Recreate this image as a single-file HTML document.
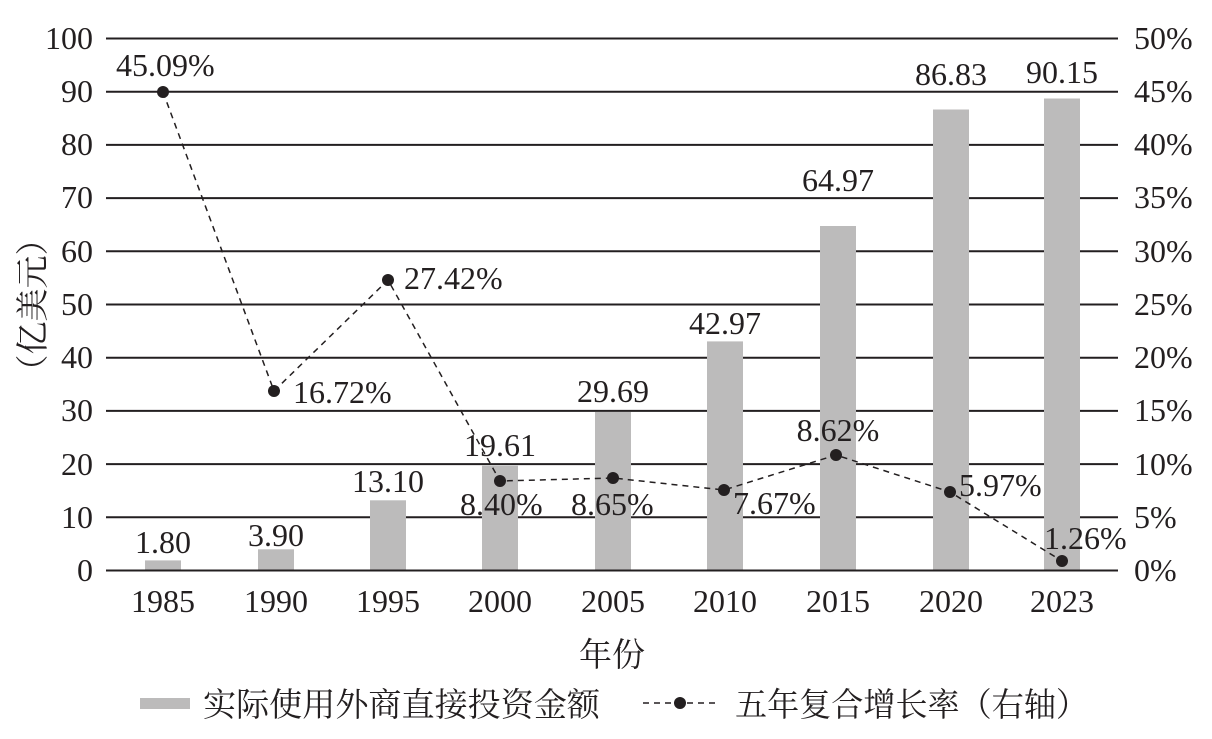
<!DOCTYPE html>
<html><head><meta charset="utf-8"><style>
html,body{margin:0;padding:0;background:#fff}
svg text{font-family:"Liberation Serif","Noto Serif CJK SC",serif;fill:#231f20}
</style></head><body>
<svg width="1212" height="734" viewBox="0 0 1212 734" xmlns="http://www.w3.org/2000/svg">
<g stroke="#231f20" stroke-width="2">
<line x1="106" y1="38.5" x2="1118" y2="38.5"/>
<line x1="106" y1="91.7" x2="1118" y2="91.7"/>
<line x1="106" y1="144.9" x2="1118" y2="144.9"/>
<line x1="106" y1="198.1" x2="1118" y2="198.1"/>
<line x1="106" y1="251.3" x2="1118" y2="251.3"/>
<line x1="106" y1="304.5" x2="1118" y2="304.5"/>
<line x1="106" y1="357.7" x2="1118" y2="357.7"/>
<line x1="106" y1="410.9" x2="1118" y2="410.9"/>
<line x1="106" y1="464.1" x2="1118" y2="464.1"/>
<line x1="106" y1="517.3" x2="1118" y2="517.3"/>
</g>
<g fill="#bcbbbb">
<rect x="145" y="560.4" width="36" height="9.6"/>
<rect x="258" y="549.3" width="36" height="20.7"/>
<rect x="370" y="500.3" width="36" height="69.7"/>
<rect x="482" y="465.7" width="36" height="104.3"/>
<rect x="595" y="412" width="36" height="158"/>
<rect x="707" y="341.4" width="36" height="228.6"/>
<rect x="820" y="226" width="36" height="344"/>
<rect x="933" y="109.5" width="36" height="460.5"/>
<rect x="1044" y="98.5" width="36" height="471.5"/>
</g>
<line x1="106" y1="570.5" x2="1118" y2="570.5" stroke="#231f20" stroke-width="2"/>
<polyline points="163,92 274,391 388,280 500,481 613,478 724,490 836,455 950,492 1062,561" fill="none" stroke="#231f20" stroke-width="1.5" stroke-dasharray="6,5"/>
<g fill="#231f20">
<circle cx="163" cy="92" r="6"/><circle cx="274" cy="391" r="6"/><circle cx="388" cy="280" r="6"/>
<circle cx="500" cy="481" r="6"/><circle cx="613" cy="478" r="6"/><circle cx="724" cy="490" r="6"/>
<circle cx="836" cy="455" r="6"/><circle cx="950" cy="492" r="6"/><circle cx="1062" cy="561" r="6"/>
</g>
<g font-size="32" text-anchor="end">
<text x="93" y="49">100</text><text x="93" y="102">90</text><text x="93" y="155">80</text>
<text x="93" y="208">70</text><text x="93" y="262">60</text><text x="93" y="315">50</text>
<text x="93" y="368">40</text><text x="93" y="421">30</text><text x="93" y="475">20</text>
<text x="93" y="528">10</text><text x="93" y="581">0</text>
</g>
<g font-size="32" text-anchor="start">
<text x="1134" y="49">50%</text><text x="1134" y="102">45%</text><text x="1134" y="155">40%</text>
<text x="1134" y="208">35%</text><text x="1134" y="262">30%</text><text x="1134" y="315">25%</text>
<text x="1134" y="368">20%</text><text x="1134" y="421">15%</text><text x="1134" y="475">10%</text>
<text x="1134" y="528">5%</text><text x="1134" y="581">0%</text>
</g>
<g font-size="32" text-anchor="middle">
<text x="163" y="612">1985</text><text x="276" y="612">1990</text><text x="388" y="612">1995</text>
<text x="500" y="612">2000</text><text x="613" y="612">2005</text><text x="725" y="612">2010</text>
<text x="838" y="612">2015</text><text x="951" y="612">2020</text><text x="1062" y="612">2023</text>
<text x="163" y="553">1.80</text><text x="276" y="546">3.90</text><text x="388" y="492">13.10</text>
<text x="500" y="456">19.61</text><text x="613" y="402">29.69</text><text x="725" y="334">42.97</text>
<text x="838" y="191">64.97</text><text x="951" y="85">86.83</text><text x="1062" y="83">90.15</text>
<text x="838" y="441">8.62%</text>
<text x="612" y="666" font-size="33">年份</text>
</g>
<g font-size="32">
<text x="116" y="76">45.09%</text>
<text x="293" y="403">16.72%</text>
<text x="404" y="289">27.42%</text>
<text x="460" y="515">8.40%</text>
<text x="571" y="515">8.65%</text>
<text x="733" y="514">7.67%</text>
<text x="959" y="496">5.97%</text>
<text x="1044" y="549">1.26%</text>
</g>
<text transform="translate(44,305) rotate(-90)" font-size="33" text-anchor="middle">（亿美元）</text>
<rect x="140" y="698" width="50" height="11" fill="#bcbbbb"/>
<text x="203" y="716" font-size="33" textLength="397" lengthAdjust="spacingAndGlyphs">实际使用外商直接投资金额</text>
<line x1="643" y1="703" x2="717" y2="703" stroke="#231f20" stroke-width="1.5" stroke-dasharray="6,5"/>
<circle cx="680" cy="703" r="6" fill="#231f20"/>
<text x="735" y="716" font-size="33" textLength="353" lengthAdjust="spacingAndGlyphs">五年复合增长率（右轴）</text>
</svg>
</body></html>
